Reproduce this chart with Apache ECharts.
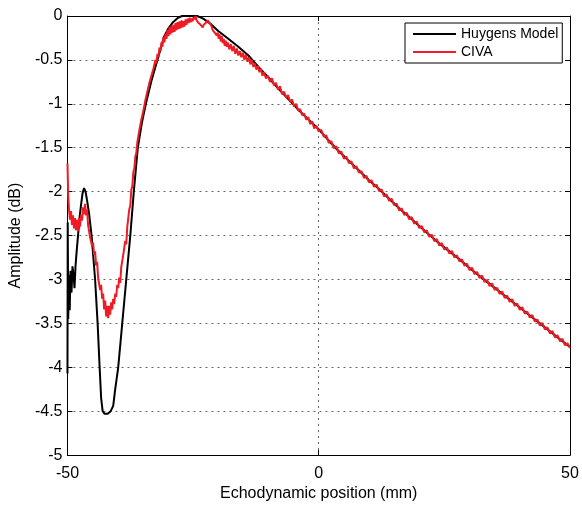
<!DOCTYPE html>
<html>
<head>
<meta charset="utf-8">
<script src="https://cdn.jsdelivr.net/npm/echarts@6/dist/echarts.min.js"></script>
<style>
  html, body { margin: 0; padding: 0; background: #fff; }
  #chart { width: 582px; height: 507px; }
</style>
</head>
<body>
<div id="chart"></div>
<script>
// series names
var seriesNames = ['Huygens Model', 'CIVA'];

// Huygens model curve [position mm, amplitude dB]
var huygens = [
    [-50, -4.07], [-49.95, -2.35], [-49.85, -3.45], [-49.7, -2.95], [-49.55, -3.35], [-49.4, -2.9],
    [-49.2, -3.15], [-49.0, -2.85], [-48.8, -2.95], [-48.6, -3.1], [-48.4, -2.85], [-48.2, -2.7],
    [-47.9, -2.5], [-47.6, -2.3], [-47.3, -2.15], [-47.0, -2.02], [-46.7, -1.96], [-46.4, -2.0],
    [-46.1, -2.1], [-45.7, -2.25], [-45.2, -2.5], [-44.5, -3.0], [-44.0, -3.5], [-43.6, -4.0],
    [-43.3, -4.35], [-43.0, -4.5], [-42.6, -4.53], [-42.0, -4.53], [-41.4, -4.5], [-40.9, -4.44],
    [-40.5, -4.25], [-39.9, -4.0], [-39.1, -3.5], [-38.3, -3.0], [-37.5, -2.5], [-36.8, -2.0],
    [-36.0, -1.5], [-35.2, -1.22], [-34.4, -1.0], [-33.3, -0.74], [-32.1, -0.5], [-31.5, -0.38],
    [-30.8, -0.24], [-30.0, -0.15], [-29.0, -0.07], [-28.0, -0.02], [-27.2, 0], [-24.2, 0],
    [-23.0, -0.03], [-21.5, -0.09], [-20, -0.17], [-18, -0.26], [-16, -0.35], [-14, -0.45],
    [-12, -0.58], [-10, -0.7], [-8, -0.83], [-6, -0.95], [-4, -1.07], [-2, -1.18], [0, -1.29],
    [2, -1.42], [4, -1.54], [6, -1.65], [8, -1.76], [10, -1.87], [12, -1.97], [14, -2.08],
    [16, -2.19], [18, -2.29], [20, -2.39], [22, -2.49], [24, -2.59], [26, -2.68], [28, -2.77],
    [30, -2.87], [32, -2.96], [34, -3.05], [36, -3.14], [38, -3.23], [40, -3.32], [42, -3.41],
    [44, -3.5], [46, -3.59], [48, -3.68], [50, -3.77]
];

// CIVA simulation curve (noisy) [position mm, amplitude dB]
var civa = [
    [-50, -1.68], [-49.85, -2.05], [-49.7, -2.2], [-49.5, -2.32], [-49.3, -2.22], [-49.1, -2.38],
    [-48.9, -2.27], [-48.7, -2.42], [-48.5, -2.3], [-48.3, -2.44], [-48.1, -2.32], [-47.9, -2.45],
    [-47.7, -2.3], [-47.5, -2.4], [-47.3, -2.26], [-47.1, -2.33], [-46.9, -2.18], [-46.7, -2.26],
    [-46.5, -2.14], [-46.3, -2.27], [-46.1, -2.2], [-45.9, -2.38], [-45.7, -2.36], [-45.5, -2.52],
    [-45.3, -2.5], [-45.1, -2.62], [-44.9, -2.58], [-44.7, -2.72], [-44.5, -2.68], [-44.3, -2.84],
    [-44.1, -2.8], [-43.9, -2.98], [-43.7, -2.96], [-43.5, -3.12], [-43.3, -3.06], [-43.1, -3.22],
    [-42.9, -3.16], [-42.7, -3.34], [-42.5, -3.24], [-42.3, -3.42], [-42.1, -3.3], [-41.9, -3.44],
    [-41.7, -3.3], [-41.5, -3.4], [-41.3, -3.26], [-41.1, -3.34], [-40.9, -3.22], [-40.7, -3.28],
    [-40.5, -3.16], [-40.3, -3.2], [-40.1, -3.06], [-39.9, -3.1], [-39.7, -2.98], [-39.5, -3.04],
    [-39.3, -2.86], [-39.1, -2.88], [-38.9, -2.72], [-38.7, -2.74], [-38.5, -2.56], [-38.3, -2.6],
    [-38.1, -2.4], [-37.9, -2.38], [-37.7, -2.2], [-37.5, -2.16], [-37.3, -1.98], [-37.1, -1.94],
    [-36.9, -1.78], [-36.7, -1.74], [-36.5, -1.6], [-36.3, -1.56], [-36.1, -1.44], [-35.9, -1.42],
    [-35.7, -1.3], [-35.5, -1.3], [-35.3, -1.18], [-35.1, -1.2], [-34.9, -1.08], [-34.7, -1.06],
    [-34.5, -0.96], [-34.3, -0.98], [-34.1, -0.86], [-33.9, -0.87], [-33.7, -0.76], [-33.5, -0.78],
    [-33.3, -0.68], [-33.1, -0.7], [-32.9, -0.6], [-32.7, -0.62], [-32.5, -0.5], [-32.3, -0.54],
    [-32.1, -0.43], [-31.9, -0.47], [-31.7, -0.36], [-31.5, -0.4], [-31.3, -0.3], [-31.1, -0.35],
    [-30.9, -0.24], [-30.7, -0.3], [-30.5, -0.2], [-30.3, -0.26], [-30.1, -0.16], [-29.9, -0.23],
    [-29.7, -0.13], [-29.5, -0.21], [-29.3, -0.11], [-29.1, -0.19], [-28.9, -0.1], [-28.7, -0.18],
    [-28.5, -0.08], [-28.3, -0.16], [-28.1, -0.07], [-27.9, -0.15], [-27.7, -0.06], [-27.5, -0.14],
    [-27.3, -0.05], [-27.1, -0.13], [-26.9, -0.06], [-26.7, -0.12], [-26.5, -0.04], [-26.3, -0.1],
    [-26.1, -0.03], [-25.9, -0.08], [-25.7, -0.02], [-25.5, -0.07], [-25.3, -0.03], [-25.1, -0.06],
    [-24.9, -0.01], [-24.7, -0.04], [-24.5, 0], [-24.3, -0.05], [-24.1, -0.03], [-23.9, -0.08],
    [-23.7, -0.06], [-23.5, -0.1], [-23.3, -0.08], [-23.1, -0.13], [-22.9, -0.1], [-22.7, -0.12],
    [-22.5, -0.08], [-22.3, -0.09], [-22.1, -0.05], [-21.9, -0.04], [-21.7, -0.08], [-21.5, -0.1],
    [-21.3, -0.12], [-21.1, -0.16], [-20.9, -0.14], [-20.7, -0.19], [-20.5, -0.17], [-20.3, -0.22],
    [-20.1, -0.19], [-19.9, -0.26], [-19.7, -0.21], [-19.5, -0.29], [-19.3, -0.23], [-19.1, -0.31],
    [-18.9, -0.26], [-18.7, -0.34], [-18.5, -0.28], [-18.3, -0.35], [-18.1, -0.3], [-17.8, -0.38],
    [-17.5, -0.32], [-17.2, -0.4], [-16.9, -0.34], [-16.6, -0.43], [-16.3, -0.37], [-16.0, -0.45],
    [-15.7, -0.4], [-15.4, -0.47], [-15.1, -0.42], [-14.8, -0.5], [-14.5, -0.44], [-14.2, -0.52],
    [-13.9, -0.47], [-13.6, -0.55], [-13.3, -0.5], [-13.0, -0.58], [-12.7, -0.54], [-12.4, -0.61],
    [-12.1, -0.57], [-11.8, -0.64], [-11.5, -0.6], [-11.2, -0.68], [-10.9, -0.64], [-10.5, -0.71],
    [-10.1, -0.68], [-9.7, -0.75], [-9.3, -0.71], [-8.9, -0.79], [-8.5, -0.76], [-8.1, -0.84],
    [-7.7, -0.8], [-7.3, -0.89], [-6.9, -0.86], [-6.5, -0.93], [-6.1, -0.9], [-5.7, -0.98],
    [-5.3, -0.95], [-4.9, -1.03], [-4.5, -1.0], [-4.1, -1.08], [-3.7, -1.06], [-3.3, -1.13],
    [-2.9, -1.11], [-2.5, -1.18], [-2.1, -1.15], [-1.7, -1.23], [-1.3, -1.2], [-0.9, -1.28],
    [-0.5, -1.25], [0, -1.315], [0.5, -1.295], [1, -1.375], [1.5, -1.36], [2, -1.445], [2.5, -1.425],
    [3, -1.505], [3.5, -1.485], [4, -1.565], [4.5, -1.545], [5, -1.625], [5.5, -1.6], [6, -1.675],
    [6.5, -1.655], [7, -1.735], [7.5, -1.71], [8, -1.785], [8.5, -1.765], [9, -1.845], [9.5, -1.82],
    [10, -1.895], [10.5, -1.87], [11, -1.945], [11.5, -1.92], [12, -1.995], [12.5, -1.975],
    [13, -2.055], [13.5, -2.03], [14, -2.105], [14.5, -2.08], [15, -2.155], [15.5, -2.135],
    [16, -2.215], [16.5, -2.19], [17, -2.265], [17.5, -2.24], [18, -2.315], [18.5, -2.29],
    [19, -2.365], [19.5, -2.34], [20, -2.415], [20.5, -2.39], [21, -2.465], [21.5, -2.44],
    [22, -2.515], [22.5, -2.49], [23, -2.565], [23.5, -2.54], [24, -2.615], [24.5, -2.585],
    [25, -2.66], [25.5, -2.635], [26, -2.705], [26.5, -2.675], [27, -2.75], [27.5, -2.725],
    [28, -2.795], [28.5, -2.77], [29, -2.845], [29.5, -2.82], [30, -2.895], [30.5, -2.865],
    [31, -2.94], [31.5, -2.915], [32, -2.985], [32.5, -2.955], [33, -3.03], [33.5, -3.005],
    [34, -3.075], [34.5, -3.045], [35, -3.12], [35.5, -3.095], [36, -3.165], [36.5, -3.135],
    [37, -3.21], [37.5, -3.185], [38, -3.255], [38.5, -3.225], [39, -3.3], [39.5, -3.275],
    [40, -3.345], [40.5, -3.315], [41, -3.39], [41.5, -3.365], [42, -3.435], [42.5, -3.405],
    [43, -3.48], [43.5, -3.455], [44, -3.525], [44.5, -3.495], [45, -3.57], [45.5, -3.545],
    [46, -3.615], [46.5, -3.585], [47, -3.66], [47.5, -3.635], [48, -3.705], [48.5, -3.675],
    [49, -3.75], [49.5, -3.725], [50, -3.78]
];

var font = 'Liberation Sans, Arial, Helvetica, sans-serif';

var chart = echarts.init(document.getElementById('chart'));

var tickStyle = { show: true, inside: true, length: 5, lineStyle: { color: '#000' } };
var boxLine = { show: true, onZero: false, lineStyle: { color: '#000', width: 1 } };
var dotted = { show: true, lineStyle: { color: '#666', type: [2, 4], width: 1 } };

chart.setOption({
    animation: false,
    backgroundColor: '#fff',
    textStyle: { fontFamily: font },
    grid: { left: 67, right: 12, top: 16, bottom: 47 },
    legend: {
        data: seriesNames,
        orient: 'vertical',
        left: 405,
        top: 23,
        padding: [3, 4, 3, 8],
        itemGap: 2,
        itemWidth: 43,
        itemHeight: 2,
        icon: 'rect',
        borderColor: '#000',
        borderWidth: 1,
        backgroundColor: '#fff',
        textStyle: { fontSize: 14, color: '#000', fontFamily: font, lineHeight: 16 }
    },
    xAxis: [{
        type: 'value',
        min: -50,
        max: 50,
        interval: 50,
        name: 'Echodynamic position (mm)',
        nameLocation: 'middle',
        nameGap: 29,
        nameTextStyle: { fontSize: 16, color: '#000' },
        axisLine: boxLine,
        axisTick: tickStyle,
        axisLabel: { fontSize: 16, color: '#000', margin: 10 },
        splitLine: dotted
    }, {
        type: 'value',
        position: 'top',
        min: -50,
        max: 50,
        interval: 50,
        axisLine: boxLine,
        axisTick: tickStyle,
        axisLabel: { show: false },
        splitLine: { show: false }
    }],
    yAxis: [{
        type: 'value',
        min: -5,
        max: 0,
        interval: 0.5,
        name: 'Amplitude (dB)',
        nameLocation: 'middle',
        nameGap: 31,
        nameTextStyle: { fontSize: 16, color: '#000' },
        axisLine: boxLine,
        axisTick: tickStyle,
        axisLabel: { fontSize: 16, color: '#000', margin: 5 },
        splitLine: dotted
    }, {
        type: 'value',
        position: 'right',
        min: -5,
        max: 0,
        interval: 0.5,
        axisLine: boxLine,
        axisTick: tickStyle,
        axisLabel: { show: false },
        splitLine: { show: false }
    }],
    series: [{
        name: seriesNames[0],
        type: 'line',
        data: huygens,
        showSymbol: false,
        color: '#000',
        lineStyle: { color: '#000', width: 2 },
        z: 2
    }, {
        name: seriesNames[1],
        type: 'line',
        data: civa,
        showSymbol: false,
        color: '#ee1c25',
        lineStyle: { color: '#ee1c25', width: 2 },
        z: 3
    }]
});
</script>
</body>
</html>
